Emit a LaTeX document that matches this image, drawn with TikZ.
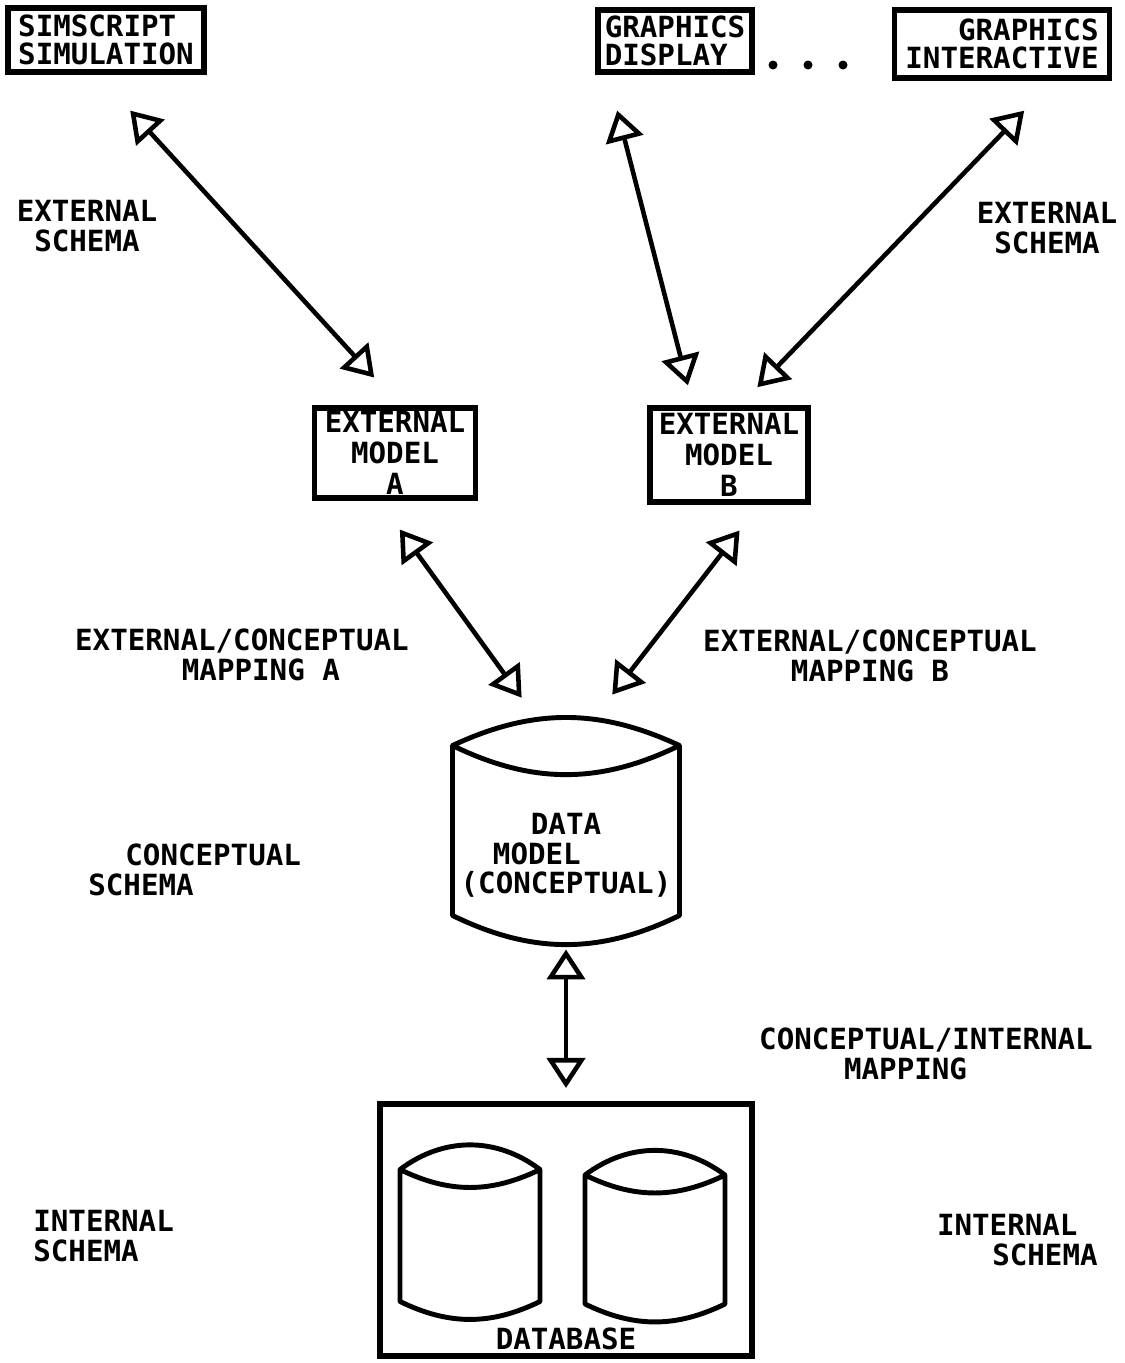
\documentclass[tikz,border=0pt]{standalone}
\usepackage{fontspec}
\setmonofont{DejaVu Sans Mono}
\usetikzlibrary{arrows.meta,positioning}
\newcommand{\plotfont}{\ttfamily\bfseries\fontsize{16.6pt}{17pt}\selectfont}
% outline of a drum round a node: node, top drop, top bend, bottom drop, lower bend
\newcommand{\drawdrum}[5]{%
  \draw[drumline] ([yshift=-#2]#1.north west) to[bend left=#3] ([yshift=-#2]#1.north east)
    to[bend left=#5] ([yshift=-#2]#1.north west) -- ([yshift=#4]#1.south west)
    to[bend right=#5] ([yshift=#4]#1.south east) -- ([yshift=-#2]#1.north east);}
\tikzset{
  box/.style={draw, line width=3.2pt, inner sep=2pt, font=\ttfamily\bfseries\fontsize{16.6pt}{17.5pt}\selectfont},
  topbox/.style={box, font=\ttfamily\bfseries\fontsize{16.6pt}{16pt}\selectfont},
  lbl/.style={font=\plotfont, inner sep=0pt},
  drum/.style={rectangle, inner sep=0pt, outer sep=0pt, font=\plotfont},
  drumline/.style={line width=2.8pt, line join=round},
  link/.style={line width=2.6pt,
    {Triangle[open,length=0.6cm,width=0.76cm]}-{Triangle[open,length=0.6cm,width=0.76cm]}},
}
\begin{document}
\begin{tikzpicture}[x=0.02cm, y=-0.02cm]
        \useasboundingbox (0,0) rectangle (1125,1363);
        % Programs on top
        \node[topbox, align=left, minimum width=3.92cm, minimum height=1.28cm] (sim) at (106,40) {SIMSCRIPT\\SIMULATION};
        \node[topbox, align=left, minimum width=3.08cm, minimum height=1.24cm] (disp) at (675,41) {GRAPHICS\\DISPLAY};
        \node[topbox, align=right, minimum width=4.3cm, minimum height=1.36cm] (inter) at (1002,44) {GRAPHICS\\INTERACTIVE};
        \foreach \dx in {773,808,843}
            \fill (\dx,65) circle (0.09cm);
        % External models
        \node[box, align=center, minimum width=3.22cm, minimum height=1.8cm] (extA) at (395,453) {EXTERNAL\\MODEL\\A};
        \node[box, align=center, minimum width=3.16cm, minimum height=1.88cm] (extB) at (729,455) {EXTERNAL\\MODEL\\B};
        % Conceptual model
        \node[drum, align=center, minimum width=4.54cm, minimum height=4.54cm] (data) at (566,831)
            {\rule{0pt}{1.4cm}DATA\\MODEL\hspace*{2em}\mbox{}\\(CONCEPTUAL)};
        \drawdrum{data}{0.56cm}{25}{0.58cm}{26}
        % Database
        \node[box, minimum width=7.44cm, minimum height=5.05cm] (db) at (566,1230) {};
        \node[drum, minimum width=2.8cm, minimum height=3.5cm] (dbL) at (470,1232) {};
        \node[drum, minimum width=2.8cm, minimum height=3.44cm] (dbR) at (655,1236) {};
        \drawdrum{dbL}{0.5cm}{37}{0.36cm}{26}
        \drawdrum{dbR}{0.5cm}{37}{0.36cm}{26}
        \node[lbl, above=0.17cm of db.south] (dbLbl) {DATABASE};
        % Arrows
        \draw[link, shorten <=0.97cm, shorten >=0.75cm] ([xshift=-0.17cm]sim.south) -- ([xshift=0.09cm]extA.north);
        \draw[link, shorten <=0.74cm, shorten >=0.41cm] ([xshift=-1.34cm]disp.south) -- ([xshift=-0.72cm]extB.north);
        \draw[link, shorten <=0.83cm, shorten >=0.5cm] ([xshift=1.02cm]inter.south) -- ([xshift=0.22cm]extB.north);
        \draw[link, shorten <=0.71cm, shorten >=0.49cm] ([xshift=-0.32cm]extA.south) -- ([xshift=-0.6cm]data.north);
        \draw[link, shorten <=0.65cm, shorten >=0.58cm] ([xshift=0.61cm]extB.south) -- ([xshift=0.57cm]data.north);
        \draw[link, shorten <=0.1cm, shorten >=0.26cm] (data.south) -- (db.north);
        % Labels
        \node[lbl, align=center] (extSL) at (87,226) {EXTERNAL\\SCHEMA};
        \node[lbl, align=center] (extSR) at (1047,228) {EXTERNAL\\SCHEMA};
        \node[lbl, align=center] (mapA) at (242,655) {EXTERNAL/CONCEPTUAL\\\hspace*{1.3em}MAPPING A};
        \node[lbl, align=center] (mapB) at (870,656) {EXTERNAL/CONCEPTUAL\\MAPPING B};
        \node[lbl, align=left, anchor=west] (concS) at (88,870) {\hspace*{1.27em}CONCEPTUAL\\SCHEMA};
        \node[lbl, align=center] (ciMap) at (926,1054) {CONCEPTUAL/INTERNAL\\MAPPING\hspace*{1.4em}};
        \node[lbl, align=left, anchor=west] (intSL) at (33,1236) {INTERNAL\\SCHEMA};
        \node[lbl, align=right, anchor=east] (intSR) at (1098,1240) {INTERNAL\hspace*{0.69em}\\SCHEMA};
\end{tikzpicture}
\end{document}
